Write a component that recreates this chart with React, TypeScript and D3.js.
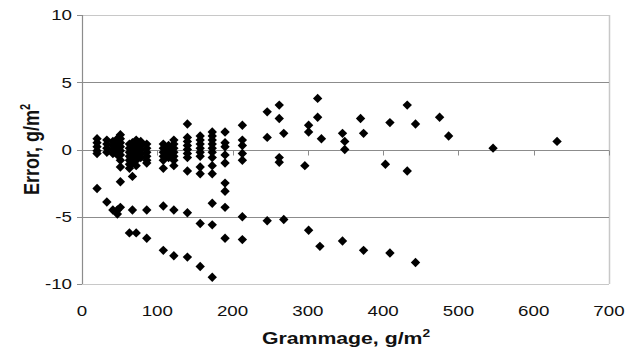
import React, { useEffect, useRef } from "react";
import * as d3 from "d3";

// Grammage (g/m2) of each measured column of points
const columnGrammage: number[] = [
  20, 33, 41, 47, 51, 63, 67, 72, 78, 86, 108, 115, 122, 140, 157, 173, 190, 213,
  246, 262, 268, 296, 301, 313, 316, 318, 346, 349, 370, 374, 403, 409, 432, 443,
  475, 487, 546, 631,
];

// Error values (g/m2) observed at each grammage column
const columnErrors: number[][] = [
  [0.8, 0.5, 0.2, -0.1, -0.3, -2.9],
  [0.7, 0.4, 0.1, -0.2, -3.9],
  [0.6, 0.3, 0.0, -0.3, -4.5],
  [0.8, 0.5, 0.2, -0.1, -0.4, -4.5, -4.8],
  [1.1, 0.8, 0.5, 0.2, -0.1, -0.4, -0.8, -1.3, -2.4, -4.3],
  [0.4, 0.1, -0.2, -0.5, -0.8, -1.1, -1.4, -6.2],
  [0.5, 0.2, -0.1, -0.4, -0.7, -1.0, -2.0, -4.5],
  [0.7, 0.4, 0.1, -0.2, -0.5, -0.8, -1.2, -6.2],
  [0.6, 0.3, 0.0, -0.3, -0.6],
  [0.4, 0.1, -0.2, -0.5, -0.8, -1.0, -4.5, -6.6],
  [0.4, 0.1, -0.2, -0.5, -0.8, -1.4, -4.2, -7.5],
  [0.3, 0.0, -0.3, -0.6],
  [0.7, 0.4, 0.1, -0.2, -0.5, -0.8, -1.2, -4.5, -7.9],
  [1.9, 0.9, 0.6, 0.3, 0.0, -0.3, -0.6, -1.6, -4.7, -8.0],
  [1.0, 0.7, 0.4, 0.1, -0.2, -0.5, -1.3, -1.8, -5.5, -8.7],
  [1.3, 1.0, 0.7, 0.4, 0.1, -0.2, -0.6, -1.2, -1.8, -4.0, -5.6, -9.5],
  [1.3, 0.5, 0.2, -0.4, -1.0, -2.5, -3.1, -4.3, -6.6],
  [1.8, 0.7, 0.3, -0.3, -0.8, -5.0, -6.7],
  [2.8, 0.9, -5.3],
  [3.3, 2.3, -0.6, -0.95],
  [1.2, -5.2],
  [-1.2],
  [1.8, 1.3, -6.0],
  [3.8, 2.4],
  [-7.2],
  [0.8],
  [1.2, -6.8],
  [0.6, 0.0],
  [2.3],
  [1.2, -7.5],
  [-1.1],
  [2.0, -7.7],
  [3.3, -1.6],
  [1.9, -8.4],
  [2.4],
  [1.0],
  [0.1],
  [0.6],
];

const xTicks: number[] = [0, 100, 200, 300, 400, 500, 600, 700];
const yTicks: number[] = [-10, -5, 0, 5, 10];
const gridValues: number[] = [-5, 5];

const W = 625;
const H = 355;
const L = 82;
const R = 609;
const T = 15;
const B = 284;
const STRETCH = 1.25;

export default function App() {
  const ref = useRef<SVGSVGElement | null>(null);

  useEffect(() => {
    const svg = d3.select(ref.current);
    svg.selectAll("*").remove();

    const x = d3.scaleLinear().domain([0, 700]).range([L, R]);
    const y = d3.scaleLinear().domain([-10, 10]).range([B, T]);
    const font = "'Liberation Sans', Arial, sans-serif";

    // plot frame (top, right, bottom)
    svg.append("line").attr("x1", L).attr("x2", R).attr("y1", T + 0.5).attr("y2", T + 0.5)
      .attr("stroke", "#c8c8c8").attr("stroke-width", 1.2);
    svg.append("line").attr("x1", L).attr("x2", R).attr("y1", B + 0.5).attr("y2", B + 0.5)
      .attr("stroke", "#c8c8c8").attr("stroke-width", 1.2);
    svg.append("line").attr("x1", R + 0.5).attr("x2", R + 0.5).attr("y1", T).attr("y2", B)
      .attr("stroke", "#c8c8c8").attr("stroke-width", 1.5);

    // gridlines
    svg.selectAll(".grid").data(gridValues).enter().append("line")
      .attr("x1", L).attr("x2", R)
      .attr("y1", (d) => Math.round(y(d)) + 0.5).attr("y2", (d) => Math.round(y(d)) + 0.5)
      .attr("stroke", "#8c8c8c").attr("stroke-width", 1);

    // x-axis at zero with ticks downwards
    const y0 = Math.round(y(0)) + 0.5;
    svg.append("line").attr("x1", L).attr("x2", R).attr("y1", y0).attr("y2", y0)
      .attr("stroke", "#8c8c8c").attr("stroke-width", 1.2);
    svg.selectAll(".xt").data(xTicks).enter().append("line")
      .attr("x1", (d) => Math.round(x(d)) + 0.5).attr("x2", (d) => Math.round(x(d)) + 0.5)
      .attr("y1", y0).attr("y2", y0 + 5)
      .attr("stroke", "#8c8c8c").attr("stroke-width", 1);

    // y-axis
    svg.append("line").attr("x1", L + 0.5).attr("x2", L + 0.5).attr("y1", T).attr("y2", B)
      .attr("stroke", "#8c8c8c").attr("stroke-width", 1.2);
    svg.selectAll(".yt").data(yTicks).enter().append("line")
      .attr("x1", L - 5).attr("x2", L)
      .attr("y1", (d) => Math.round(y(d)) + 0.5).attr("y2", (d) => Math.round(y(d)) + 0.5)
      .attr("stroke", "#8c8c8c").attr("stroke-width", 1);

    // tick labels (horizontally stretched like the reference)
    svg.selectAll(".yl").data(yTicks).enter().append("text")
      .attr("transform", (d) => `translate(${L - 10},${y(d)}) scale(${STRETCH},1)`)
      .attr("dy", "0.35em")
      .attr("text-anchor", "end").attr("font-family", font).attr("font-size", 15)
      .attr("fill", "#111").text((d) => String(d));
    svg.selectAll(".xl").data(xTicks).enter().append("text")
      .attr("transform", (d) => `translate(${x(d)},316) scale(${STRETCH},1)`)
      .attr("text-anchor", "middle").attr("font-family", font).attr("font-size", 15)
      .attr("fill", "#111").text((d) => String(d));

    // points
    const points = columnGrammage.flatMap((g, i) => columnErrors[i].map((e) => ({ g, e })));
    const sym = d3.symbol().type(d3.symbolSquare).size(44);
    svg.selectAll(".pt").data(points).enter().append("path")
      .attr("d", sym() as string)
      .attr("transform", (d) => `translate(${x(d.g)},${y(d.e)}) rotate(45)`)
      .attr("fill", "#000");

    // axis titles
    const xt = svg.append("text")
      .attr("transform", `translate(346,344) scale(${STRETCH},1)`)
      .attr("text-anchor", "middle").attr("font-family", font).attr("font-size", 17)
      .attr("font-weight", "bold").attr("fill", "#111");
    xt.append("tspan").text("Grammage, g/m");
    xt.append("tspan").attr("dy", -7).attr("font-size", 11).text("2");

    const yt = svg.append("text")
      .attr("transform", `translate(39,${y(0)}) rotate(-90) scale(1,${STRETCH})`)
      .attr("text-anchor", "middle").attr("font-family", font).attr("font-size", 18)
      .attr("font-weight", "bold").attr("fill", "#111");
    yt.append("tspan").text("Error, g/m");
    yt.append("tspan").attr("dy", -7).attr("font-size", 11).text("2");
  }, []);

  return (
    <svg
      ref={ref}
      width={W}
      height={H}
      style={{ position: "absolute", left: 0, top: 0, background: "#fff" }}
    />
  );
}
